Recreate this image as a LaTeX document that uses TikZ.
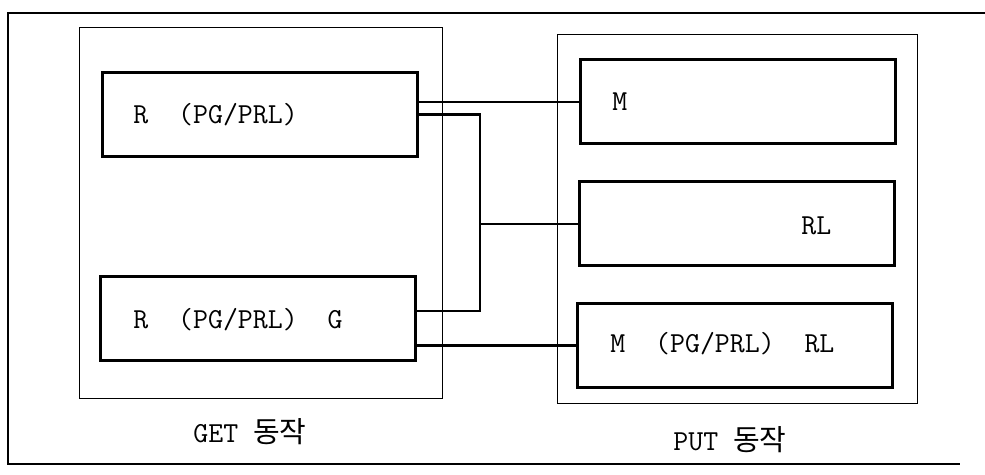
\documentclass[tikz,border=0pt]{standalone}
\usepackage{fontspec}
\newfontfamily\krfont{Noto Sans CJK KR}
\usetikzlibrary{positioning,calc}

\tikzset{
  blk/.style={draw, line width=1.5pt, minimum width=157.5pt, minimum height=42pt, inner sep=0pt},
  panel/.style={draw, line width=0.5pt, inner sep=0pt},
  wire/.style={line width=1.3pt},
  frame/.style={line width=1.3pt},
  lbl/.style={anchor=base west, inner sep=0pt, font=\ttfamily\fontsize{14.5}{17}\selectfont},
}

\begin{document}
\begin{tikzpicture}[x=0.5pt,y=-0.5pt]
  \useasboundingbox (0,0) rectangle (985,475);
  % outer frame (right side open)
  \draw[frame] (985,13) -- (8,13) -- (8,464) -- (960,464);
  % the two groups
  \node[panel, minimum width=181.5pt, minimum height=185.5pt] (get) at (260.5,213.5) {};
  \node[panel, minimum width=180pt, minimum height=184.5pt] (put) at (737,219.5) {};
  % GET side
  \node[blk] (rpg)  at (259.5,114.5) {};
  \node[blk] (rpgg) at (257.5,319) {};
  % PUT side
  \node[blk] (mbox)   at (737.5,102) {};
  \node[blk] (rlbox)  at (736.5,224) {};
  \node[blk] (mrlbox) at (734.5,345.5) {};
  % texts
  \node[lbl] (rpgtxt)  at (133,124) {R~~(PG/PRL)};
  \node[lbl] (rpggtxt) at (133,329) {R~~(PG/PRL)~~G};
  \node[lbl] (mtxt)    at (612,111) {M};
  \node[lbl] (rltxt)   at (801,235) {RL};
  \node[lbl] (mrltxt)  at (610,353) {M~~(PG/PRL)~~RL};
  \node[lbl] (gettxt)  at (193,443) {GET {\krfont 동작}};
  \node[lbl] (puttxt)  at (673,451) {PUT {\krfont 동작}};
  % connections
  \coordinate (bus) at (480,224);
  \draw[wire] (rpg.east |- mbox.west) -- (mbox.west);
  \draw[wire] (rpg.east) -| (bus) |- ($(rpgg.east)+(0,-8)$);
  \draw[wire] (bus) -- (rlbox.west);
  \draw[wire] (rpgg.east |- mrlbox.west) -- (mrlbox.west);
\end{tikzpicture}
\end{document}
